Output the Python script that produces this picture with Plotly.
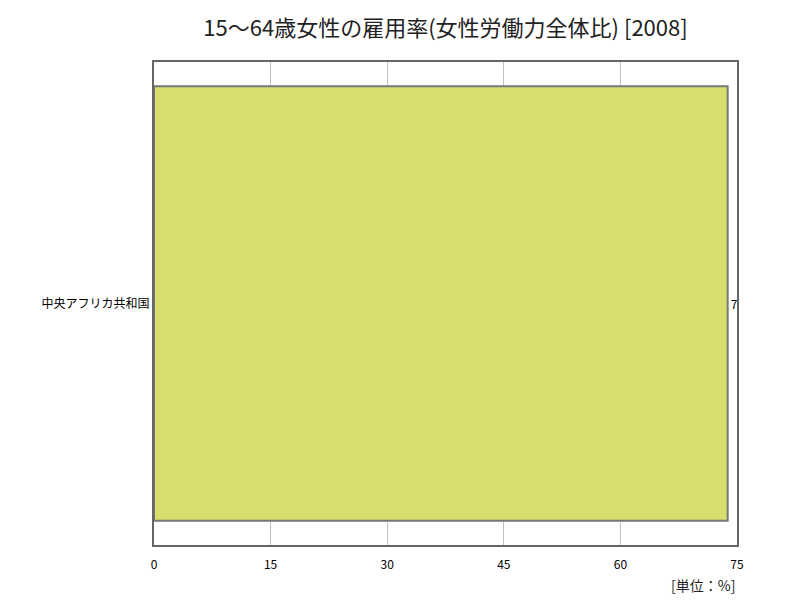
import plotly.graph_objects as go

# data
countries = ["中央アフリカ共和国"]
rates = [73.8]
x_ticks = [0, 15, 30, 45, 60, 75]

title_text = "15～64歳女性の雇用率(女性労働力全体比) [2008]"
unit_text = "[単位：%]"

fig = go.Figure()
fig.add_trace(go.Bar(
    y=countries,
    x=rates,
    orientation="h",
    width=0.9,
    marker=dict(color="#d8de6e", line=dict(color="#777777", width=2)),
    text=[f"{v}" for v in rates],
    textposition="outside",
    cliponaxis=True,
    textfont=dict(size=12, color="#000000"),
))

# the page body adds an 8px margin, so the figure is a bit smaller than the window
fig.update_layout(
    width=792,
    height=592,
    paper_bgcolor="white",
    plot_bgcolor="white",
    font=dict(family="Noto Sans CJK JP", color="#000000"),
    title=dict(text=title_text, x=0.5, xref="paper", xanchor="center",
               y=0.966, yanchor="middle",
               font=dict(size=22, color="#222222")),
    margin=dict(l=146, r=63, t=54, b=55),
    showlegend=False,
)

fig.update_xaxes(
    range=[0, 75],
    tickvals=x_ticks,
    ticktext=[str(t) for t in x_ticks],
    showgrid=True,
    gridcolor="#c0c0c0",
    gridwidth=1,
    zeroline=False,
    showline=True,
    linecolor="#666666",
    linewidth=2,
    mirror=True,
    ticks="",
    ticklabelstandoff=8,
    tickfont=dict(size=12),
)
fig.update_yaxes(
    showgrid=False,
    showline=True,
    linecolor="#666666",
    linewidth=2,
    mirror=True,
    ticks="",
    tickfont=dict(size=12),
)

fig.add_annotation(
    text=unit_text, xref="paper", yref="paper", x=1.0, y=-0.058,
    xanchor="right", yanchor="top", showarrow=False,
    font=dict(size=14, color="#222222"),
)

fig.write_html("out.html")
